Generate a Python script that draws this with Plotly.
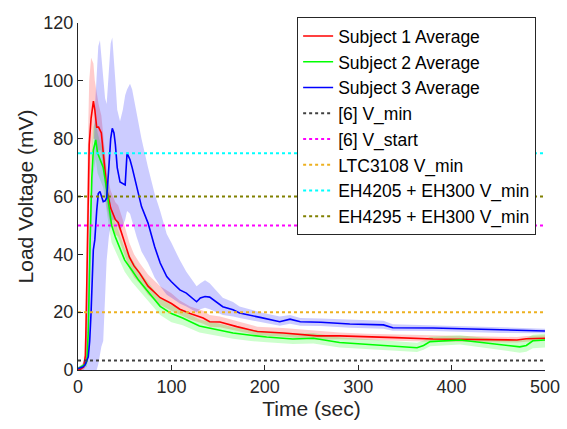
import plotly.graph_objects as go

# ---- Subject 1 (red): time, mean, band bounds ----
t1 = [0, 3, 6, 8, 10, 12, 14, 16.5, 18, 20, 22, 25, 28, 31, 35, 40, 43, 48, 55, 60,
      66, 75, 88, 100, 109, 120, 134, 141, 152, 170, 192, 220, 256, 280, 309, 340,
      380, 420, 450, 470, 480, 490, 500]
m1 = [0, 0.3, 1, 5, 40, 78, 87, 93, 90, 84, 84, 82, 72, 62, 56, 52, 51, 46, 39, 36,
      33.5, 29, 25, 23, 21, 19.5, 18, 16.7, 16.6, 15, 13.3, 12.8, 11.8, 11.8, 11.4, 11.2,
      10.7, 10.6, 10.4, 10.4, 10.8, 11, 11]
hi1 = [0.5, 1, 3, 15, 70, 100, 108, 106, 100, 95, 92, 88, 78, 68, 62, 58, 57, 52, 44, 40,
       37, 33, 29, 26.5, 24, 22, 20.5, 19, 18.5, 17, 15, 14.5, 13.5, 13, 12.5, 12.3,
       11.8, 11.6, 11.4, 11.4, 11.8, 12, 12]
lo1 = [0, 0, 0, 1, 15, 55, 70, 80, 80, 75, 76, 76, 66, 56, 50, 47, 46, 41, 35, 32,
       30, 26, 22.5, 20.5, 19, 17.5, 16, 15, 14.8, 13.5, 12, 11.5, 10.5, 10.6, 10.3, 10.1,
       9.8, 9.7, 9.5, 9.5, 9.8, 10, 10]

# ---- Subject 2 (green) ----
t2 = [0, 5, 8, 9.5, 11, 12.8, 14.7, 16.4, 19, 21, 23.5, 27, 30, 33, 36, 40, 45, 50,
      57.5, 65, 73.5, 88, 100, 112, 130, 152, 166, 185, 202, 230, 252, 280, 327, 363,
      370, 377, 409, 445, 473, 480, 487, 500]
m2 = [0.5, 1.5, 2, 3, 13, 42, 66, 76, 79.6, 75, 72.7, 70, 64, 57, 50, 46, 42, 38,
      34.6, 31, 27.7, 22, 19.5, 18, 15.2, 13.8, 12.8, 12, 11.4, 10.7, 11, 9.5, 8.6, 7.7,
      8.5, 9.8, 10.4, 9, 8, 8.5, 10.1, 10.4]
hi2 = [1, 2, 3, 6, 25, 55, 75, 84, 86, 82, 79, 76, 70, 63, 55, 51, 46.5, 42,
       38.5, 34.5, 31, 25, 22.5, 20.5, 17.5, 16, 14.8, 14, 13.2, 12.5, 12.8, 11.3, 10.3, 9.4,
       10.2, 11.5, 12, 10.8, 10.2, 11, 12.2, 12.5]
lo2 = [0, 0.8, 1, 1, 4, 30, 57, 68, 73, 68, 66, 63, 57, 50, 44, 41, 37.5, 34,
       30.5, 27.5, 24.5, 19, 16.5, 15.5, 13, 11.7, 10.8, 10, 9.6, 9, 9.2, 7.8, 7, 6.2,
       7, 8.2, 8.8, 7.3, 6, 6.3, 7.5, 7.8]

# ---- Subject 3 (blue) ----
t3 = [0, 5, 7.5, 9, 11, 12.5, 14, 16.4, 18, 20, 21.7, 23.5, 25, 27, 29, 30.7, 33, 35,
      36.7, 38.5, 40, 42, 45, 48, 50.5, 52.5, 55.7, 58, 62.8, 68, 75, 82, 88, 95, 100,
      109, 116, 127, 131, 136, 141, 155, 166, 173, 195, 216, 227, 238, 260, 291, 327,
      337, 380, 416, 452, 500]
m3 = [0.5, 1, 1.7, 3, 4.6, 10, 20, 41.5, 45, 55, 61, 61.7, 60, 58.2, 58.5, 59.5, 70, 80,
      83.6, 82, 78, 70, 65, 64.5, 64, 75, 72.7, 70, 63, 56.5, 50.8, 42.7, 37, 32.3, 30.5,
      27.7, 26.6, 23.6, 24.9, 25.4, 25.2, 21.9, 20.8, 19.7, 18.2, 16.7, 17.6, 16.7, 16.5, 15.9, 15.6,
      14.6, 14.5, 14.2, 13.8, 13.5]
hi3 = [1, 2, 5, 15, 35, 55, 62, 70, 90, 105, 112, 114, 108, 100, 94, 92, 105, 113,
       115, 108, 100, 90, 86, 90, 95, 97, 99, 97, 89, 80, 70, 61, 55, 47, 44,
       38, 34, 29, 30, 31, 30, 25, 23.5, 22, 20, 18.5, 19, 18, 17.8, 17.5, 17,
       15.8, 15.5, 15.2, 14.8, 14.3]
lo3 = [0, 0, 0, 0, 0, 0, 0, 0, 0, 0, 2, 5, 8, 10, 25, 38, 46, 50,
       52, 52, 52, 50, 48, 50, 52, 55, 54, 52, 46, 41, 37, 32, 29, 26, 25,
       23, 22, 20, 21, 21.5, 21, 19, 18.5, 18, 16.5, 15.3, 16, 15.3, 15.2, 14.6, 14.3,
       13.6, 13.5, 13.2, 12.8, 12.7]

# ---- Reference voltage levels (mV) ----
ref_names = ["[6] V_min", "[6] V_start", "LTC3108 V_min",
             "EH4205 + EH300 V_min", "EH4295 + EH300 V_min"]
ref_levels = [3.3, 50, 20, 75, 60]
ref_colors = ["#404040", "#ff00ff", "#edb120", "#00ffff", "#808000"]
x_span = [0, 500]

subjects = [
    ("Subject 1 Average", t1, m1, lo1, hi1, "#ff0000", "rgba(255,0,0,0.2)"),
    ("Subject 2 Average", t2, m2, lo2, hi2, "#00ff00", "rgba(0,255,0,0.2)"),
    ("Subject 3 Average", t3, m3, lo3, hi3, "#0000ff", "rgba(0,0,255,0.2)"),
]

fig = go.Figure()

# shaded spread bands first, so mean lines sit on top
for name, t, m, lo, hi, col, fcol in subjects:
    fig.add_trace(go.Scatter(
        x=t + t[::-1], y=hi + lo[::-1], fill="toself", fillcolor=fcol,
        line=dict(width=0), mode="lines", hoverinfo="skip", showlegend=False))

for name, t, m, lo, hi, col, fcol in subjects:
    fig.add_trace(go.Scatter(x=t, y=m, mode="lines", name=name,
                             line=dict(color=col, width=1.6)))

for name, lvl, col in zip(ref_names, ref_levels, ref_colors):
    fig.add_trace(go.Scatter(x=x_span, y=[lvl, lvl], mode="lines", name=name,
                             line=dict(color=col, width=2, dash="dot")))

axis_col = "#262626"
fig.update_layout(
    width=567, height=429,
    margin=dict(l=78, r=22, t=23, b=59, autoexpand=False),
    paper_bgcolor="white", plot_bgcolor="white",
    font=dict(family="Liberation Sans, Arial, sans-serif", color=axis_col),
    legend=dict(x=0.981, y=1.017, xanchor="right", yanchor="top",
                bgcolor="white", bordercolor="#262626", borderwidth=1,
                font=dict(size=17.5, color="black"), tracegroupgap=0,
                maxheight=1.0),
    xaxis=dict(range=[0, 500], tickvals=[0, 100, 200, 300, 400, 500],
               ticks="inside", ticklen=5, tickcolor=axis_col,
               showline=True, linecolor=axis_col, linewidth=1, automargin=False,
               showgrid=False, zeroline=False, tickfont=dict(size=18),
               title=dict(text="Time (sec)", font=dict(size=21), standoff=4)),
    yaxis=dict(range=[0, 120], tickvals=[0, 20, 40, 60, 80, 100, 120],
               ticks="inside", ticklen=5, tickcolor=axis_col,
               showline=True, linecolor=axis_col, linewidth=1, automargin=False,
               showgrid=False, zeroline=False, tickfont=dict(size=18),
               title=dict(text="Load Voltage (mV)", font=dict(size=21), standoff=4)),
)

fig.write_html("out.html")
